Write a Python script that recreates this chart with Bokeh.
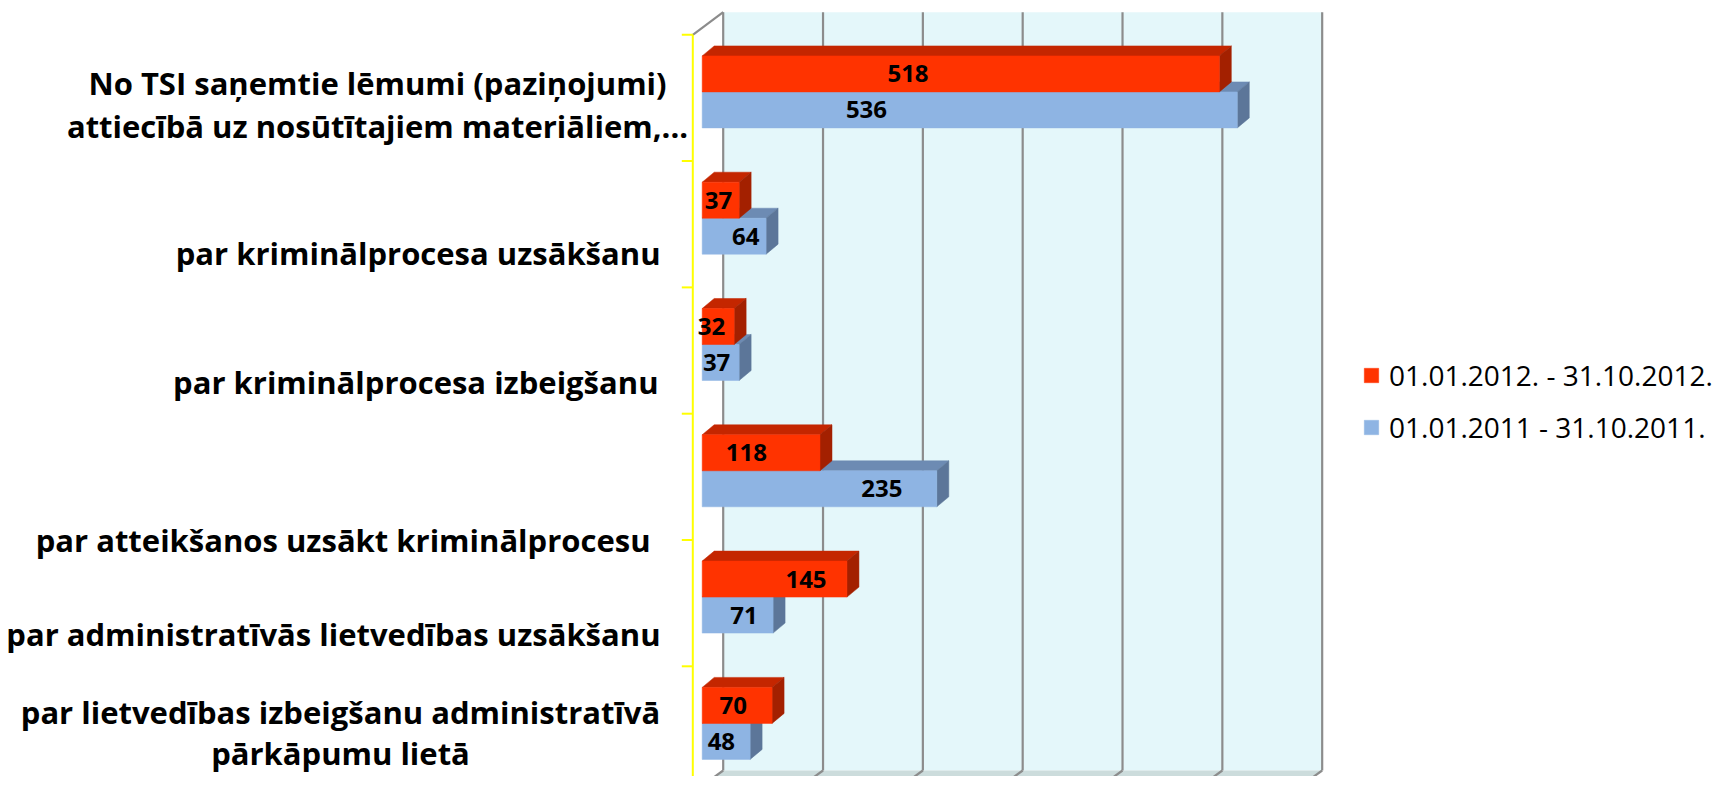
from bokeh.plotting import figure
from bokeh.models import Range1d, Legend, LegendItem, ColumnDataSource
from bokeh.core.properties import value
from bokeh.embed import file_html
from bokeh.resources import INLINE

# ---------------- data ----------------
category_lines = [
    ["No TSI saņemtie lēmumi (paziņojumi)", "attiecībā uz nosūtītajiem materiāliem,..."],
    ["par kriminālprocesa uzsākšanu"],
    ["par kriminālprocesa izbeigšanu"],
    ["par atteikšanos uzsākt kriminālprocesu"],
    ["par administratīvās lietvedības uzsākšanu"],
    ["par lietvedības izbeigšanu administratīvā", "pārkāpumu lietā"],
]
series_names = ["01.01.2012. - 31.10.2012.", "01.01.2011 - 31.10.2011."]
values_2012 = [518, 37, 32, 118, 145, 70]
values_2011 = [536, 64, 37, 235, 71, 48]
x_ticks = [0, 100, 200, 300, 400, 500, 600]

# label anchor along each bar (fraction of bar length), as placed in the original
label_frac_2012 = [0.398, 0.44, 0.29, 0.375, 0.717, 0.443]
label_frac_2011 = [0.307, 0.68, 0.39, 0.766, 0.589, 0.40]

# ---------------- layout ----------------
W, H = 1718, 776
PX = 0.9983          # pixels per value unit
BAND = 126.3         # pixels per category band
ZERO_PX = 701.7      # px of value 0 (front face)
TOP_PX = 34.3        # px of top of first band


def dxu(px):
    return px / PX


def dyu(px):
    return px / BAND


def xv(xr):  # pixel -> value units
    return (xr - ZERO_PX) / PX


def yd(yr):  # pixel -> band units
    return (yr - TOP_PX) / BAND


n = len(values_2012)

p = figure(width=W, height=H, output_backend="svg", toolbar_location=None,
           x_range=Range1d(-ZERO_PX / PX, (W - ZERO_PX) / PX),
           y_range=Range1d((H - TOP_PX) / BAND, -TOP_PX / BAND),
           min_border=0, outline_line_color=None, background_fill_color="white")
p.xaxis.visible = False
p.yaxis.visible = False
p.grid.visible = False

FRONT_X = xv(692.3)
BACK_X = xv(722.7)
TOP_BACK = yd(11.7)
FLOOR_BACK = yd(770)
xmax = x_ticks[-1]

# back wall
p.quad(left=BACK_X, right=BACK_X + xmax, top=TOP_BACK, bottom=FLOOR_BACK,
       fill_color="#E4F7FA", line_color=None)
# floor
p.patch([BACK_X, BACK_X + xmax, FRONT_X + xmax, FRONT_X],
        [FLOOR_BACK, FLOOR_BACK, n, n], fill_color="#CCDCDC", line_color=None)
# gridlines on wall and floor
grid_col = "#8C8C8C"
p.multi_line(xs=[[BACK_X + t, BACK_X + t] for t in x_ticks],
             ys=[[TOP_BACK, FLOOR_BACK] for t in x_ticks], line_color=grid_col, line_width=2.2)
p.multi_line(xs=[[BACK_X + t, FRONT_X + t] for t in x_ticks],
             ys=[[FLOOR_BACK, n] for t in x_ticks], line_color=grid_col, line_width=2.2)
p.line([FRONT_X, BACK_X], [0, TOP_BACK], line_color=grid_col, line_width=2.2)

# category axis (yellow)
p.segment(x0=FRONT_X, y0=0, x1=FRONT_X, y1=n, line_color="#FFFF00", line_width=2)
p.segment(x0=[FRONT_X - dxu(11)] * (n + 1), y0=list(range(n + 1)),
          x1=[FRONT_X] * (n + 1), y1=list(range(n + 1)), line_color="#FFFF00", line_width=2)

# bars
RED_TOP = 0.167
BAR_H = dyu(36)
DX = dxu(12)
DY = dyu(10)


def faces(vals, off):
    tops = [i + off for i in range(len(vals))]
    bots = [t + BAR_H for t in tops]
    top_xs = [[0, v, v + DX, DX] for v in vals]
    top_ys = [[t, t, t - DY, t - DY] for t in tops]
    side_xs = [[v, v + DX, v + DX, v] for v in vals]
    side_ys = [[t, t - DY, b - DY, b] for t, b in zip(tops, bots)]
    return tops, bots, top_xs, top_ys, side_xs, side_ys


series = [
    (values_2011, RED_TOP + BAR_H, "#8EB4E3", "#6D8BB3", "#5C7699", label_frac_2011),
    (values_2012, RED_TOP, "#FF3300", "#C42600", "#A32000", label_frac_2012),
]
front_renderers = []
for vals, off, c_front, c_top, c_side, fr in series:
    tops, bots, txs, tys, sxs, sys_ = faces(vals, off)
    p.patches(txs, tys, fill_color=c_top, line_color=c_top, line_width=0.5)
    p.patches(sxs, sys_, fill_color=c_side, line_color=c_side, line_width=0.5)
    r = p.quad(left=[0] * len(vals), right=vals, top=tops, bottom=bots,
               fill_color=c_front, line_color=c_front, line_width=0.5)
    front_renderers.append(r)

# data labels
for vals, off, c_front, c_top, c_side, fr in series:
    src = ColumnDataSource(dict(
        x=[f * v for f, v in zip(fr, vals)],
        y=[i + off + BAR_H / 2 for i in range(len(vals))],
        t=[str(v) for v in vals]))
    p.text(x="x", y="y", text="t", source=src, text_align="center", text_baseline="middle",
           text_font=value("Open Sans"), text_font_style="bold", text_font_size="24px",
           text_color="black")

# category labels: single lines right-aligned, wrapped labels centred
right_x, right_y, right_t = [], [], []
cent_x, cent_y, cent_t = [], [], []
label_anchor_px = [377, 660, 658, 650, 660, 340]
label_y_px = [[82, 125], [252], [381], [539], [633], [711, 752]]
for lines, ax, ys in zip(category_lines, label_anchor_px, label_y_px):
    for line, y in zip(lines, ys):
        if len(lines) > 1:
            cent_x.append(xv(ax)); cent_y.append(yd(y)); cent_t.append(line)
        else:
            right_x.append(xv(ax)); right_y.append(yd(y)); right_t.append(line)
p.text(x=right_x, y=right_y, text=right_t, text_align="right", text_baseline="middle",
       text_font=value("Open Sans"), text_font_style="bold", text_font_size="31px",
       text_color="black")
p.text(x=cent_x, y=cent_y, text=cent_t, text_align="center", text_baseline="middle",
       text_font=value("Open Sans"), text_font_style="bold", text_font_size="31px",
       text_color="black")

# legend
legend = Legend(items=[LegendItem(label=series_names[0], renderers=[front_renderers[1]]),
                       LegendItem(label=series_names[1], renderers=[front_renderers[0]])],
                location=(1362, 330), glyph_width=18, glyph_height=18, label_height=20,
                label_standoff=9, spacing=14, padding=0, margin=0,
                label_text_font="Open Sans", label_text_font_size="28px",
                label_text_color="black",
                background_fill_alpha=0, border_line_alpha=0)
p.add_layout(legend)

open("out.html", "w").write(file_html(p, INLINE))
